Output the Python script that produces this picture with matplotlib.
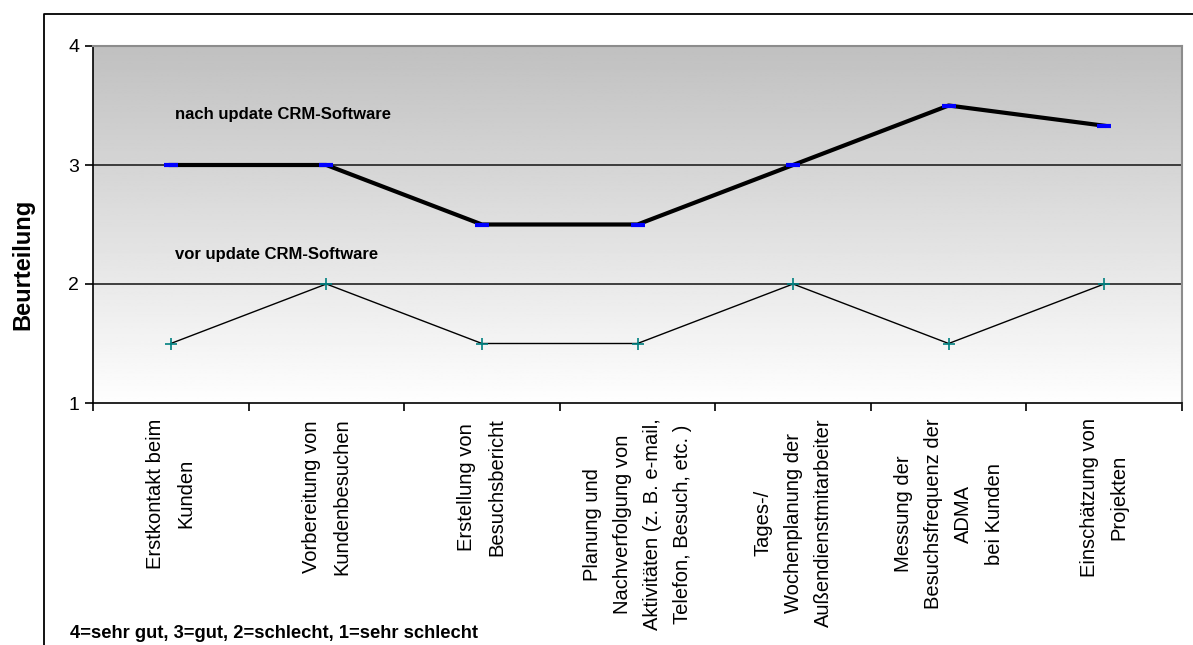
import matplotlib.pyplot as plt
import numpy as np
from matplotlib.lines import Line2D

plt.rcParams['font.family'] = ['Liberation Sans', 'DejaVu Sans']

# data
categories = ['Erstkontakt beim\nKunden',
              'Vorbereitung von\nKundenbesuchen',
              'Erstellung von\nBesuchsbericht',
              'Planung und\nNachverfolgung von\nAktivitäten (z. B. e-mail,\nTelefon, Besuch, etc. )',
              'Tages-/\nWochenplanung der\nAußendienstmitarbeiter',
              'Messung der\nBesuchsfrequenz der\nADMA\nbei Kunden',
              'Einschätzung von\nProjekten']
nach = [3, 3, 2.5, 2.5, 3, 3.5, 3.33]
vor = [1.5, 2, 1.5, 1.5, 2, 1.5, 2]
yticks = [1, 2, 3, 4]

W, H = 1193, 645
fig = plt.figure(figsize=(W / 100, H / 100), dpi=100)
ax = fig.add_axes([93 / W, 1 - 403 / H, (1182 - 93) / W, (403 - 46) / H])

x = np.arange(len(categories))
ax.set_xlim(-0.5, len(categories) - 0.5)
ax.set_ylim(1, 4)

# gradient background (grey at top -> white at bottom)
grad = np.linspace(192, 254, 256)[:, None] / 255.0
ax.imshow(np.repeat(grad, 2, axis=1), cmap='gray', vmin=0, vmax=1,
          extent=[-0.5, len(categories) - 0.5, 1, 4], aspect='auto', zorder=0)

for yv in [2, 3]:
    ax.axhline(yv, color='#222222', linewidth=1.2, zorder=1)

ax.plot(x, vor, color='black', linewidth=1.0, zorder=3,
        marker='+', markersize=8, markeredgecolor='#008080', markeredgewidth=1.2)
ax.plot(x, nach, color='black', linewidth=3.0, zorder=4,
        marker='_', markersize=10, markeredgecolor='#0000ff', markeredgewidth=3)

ax.text(0.03, 3.39, 'nach update CRM-Software', fontsize=12, fontweight='bold')
ax.text(0.03, 2.21, 'vor update CRM-Software', fontsize=12, fontweight='bold')

# spines
for s in ['top', 'right']:
    ax.spines[s].set_color('#8c8c8c')
    ax.spines[s].set_linewidth(1.5)
for s in ['left', 'bottom']:
    ax.spines[s].set_color('black')
    ax.spines[s].set_linewidth(1.2)

ax.set_yticks(yticks)
ax.set_yticklabels([str(v) for v in yticks], fontsize=14)
ax.tick_params(axis='y', length=6, width=1.2, pad=4, direction='out')

ax.set_xticks(x)
ax.set_xticklabels(categories, rotation=90, fontsize=14.5, linespacing=1.75,
                   multialignment='center')
ax.tick_params(axis='x', which='major', length=0, pad=11)
ax.set_xticks(np.arange(-0.5, len(categories)), minor=True)
ax.tick_params(axis='x', which='minor', length=6, width=1.2, direction='out')

fig.text(23 / W, 1 - 264 / H, 'Beurteilung', rotation=90, fontsize=17,
         fontweight='bold', ha='center', va='center')
fig.text(70 / W, 1 - 634 / H, '4=sehr gut, 3=gut, 2=schlecht, 1=sehr schlecht',
         fontsize=13.2, fontweight='bold', ha='left', va='center')

# outer chart frame
fx, fy = 43.5 / W, 1 - 13.5 / H
fig.add_artist(Line2D([fx, fx, 1], [0, fy, fy], color='black', linewidth=1.3))

fig.savefig('out.png', dpi=100)
